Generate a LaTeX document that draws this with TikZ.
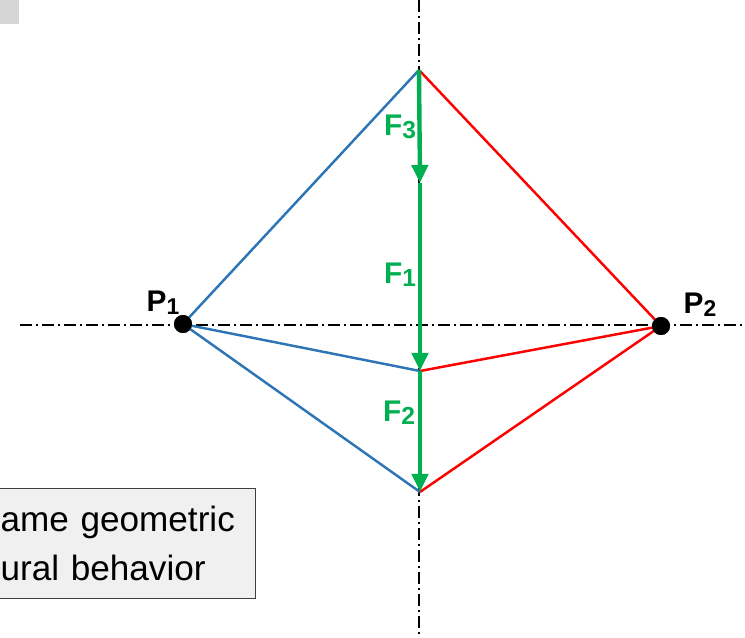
\documentclass[tikz,border=0pt]{standalone}
\usepackage{fontspec}
\setsansfont{Liberation Sans}
\usepackage{xcolor}
\usepackage{tikz}
\usetikzlibrary{arrows.meta, positioning}

\definecolor{fgreen}{HTML}{00B050}
\definecolor{lblue}{HTML}{2E75B6}
\definecolor{lred}{HTML}{FF0000}
\definecolor{notegray}{HTML}{F0F0F0}
\definecolor{cornergray}{HTML}{D6D6D6}

\tikzset{
  axis/.style={black, line width=0.6pt, dash pattern=on 0.24cm off 0.08cm on 0.04cm off 0.08cm},
  pt/.style={circle, fill=black, inner sep=0pt, minimum size=0.36cm},
  lbl/.style={font=\sffamily\bfseries\fontsize{17}{17}\selectfont},
  flbl/.style={font=\sffamily\bfseries\fontsize{17}{17}\selectfont, text=fgreen},
  force/.style={fgreen, line width=2.5pt, -{Triangle[length=0.36cm, width=0.32cm]}},
  bar/.style={line width=1.4pt},
}

\begin{document}
\begin{tikzpicture}[x=0.02cm, y=-0.02cm]
    \useasboundingbox (0,0) rectangle (745,638);
    \fill[cornergray] (0,0) rectangle (19,24);

    % axes
    \coordinate (vtop) at (419,0);
    \coordinate (vbot) at (419,638);
    \coordinate (hl) at (20,325);
    \coordinate (hr) at (745,325);
    \draw[axis] (vtop) -- (vbot);
    \draw[axis] (hl) -- (hr);

    \coordinate (top) at (419,70);
    \coordinate (mid) at (420,371);
    \coordinate (bot) at (420,492);
    \coordinate (f3end) at (420,183);
    \node[pt] (p1) at (183,324) {};
    \node[pt] (p2) at (661,326) {};

    \draw[bar, lblue] (p1.center) -- (top);
    \draw[bar, lblue] (p1.center) -- (mid);
    \draw[bar, lblue] (p1.center) -- (bot);
    \draw[bar, lred] (p2.center) -- (top);
    \draw[bar, lred] (p2.center) -- (mid);
    \draw[bar, lred] (p2.center) -- (bot);

    \draw[force] (top) -- (f3end);
    \draw[force] (f3end) -- (mid);
    \draw[force] (mid) -- (bot);

    \node[pt] at (p1) {};
    \node[pt] at (p2) {};

    \node[lbl] (p1lbl) at (163,303) {P\raisebox{-1.5pt}{\fontsize{13}{13}\selectfont 1}};
    \node[lbl] (p2lbl) at (700,305) {P\raisebox{-1.5pt}{\fontsize{13}{13}\selectfont 2}};
    \node[flbl] (f3lbl) at (400,127) {F\raisebox{-1.5pt}{\fontsize{14}{14}\selectfont 3}};
    \node[flbl] (f1lbl) at (400,275) {F\raisebox{-1.5pt}{\fontsize{14}{14}\selectfont 1}};
    \node[flbl] (f2lbl) at (399,413) {F\raisebox{-1.5pt}{\fontsize{14}{14}\selectfont 2}};

    \node[draw=black!75, fill=notegray, line width=0.6pt, anchor=north west,
          text width=4.9cm, inner xsep=0.2cm, minimum height=2.2cm, align=left,
          font=\sffamily\fontsize{20}{28}\selectfont] (note) at (-10,488)
          {ame geometric\\ural behavior};
\end{tikzpicture}
\end{document}
